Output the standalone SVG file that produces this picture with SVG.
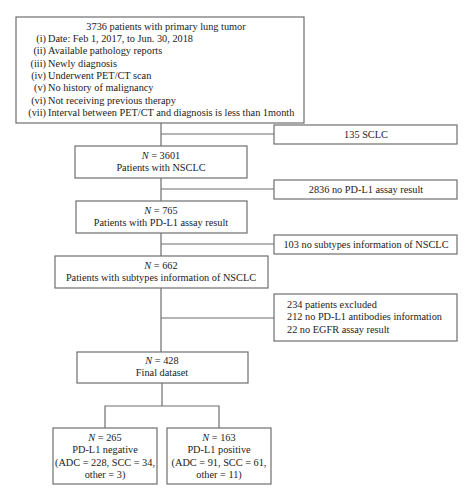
<svg xmlns="http://www.w3.org/2000/svg" width="474" height="501" viewBox="0 0 474 501">
<style>
.b{fill:#fff;stroke:#6e6e6e;stroke-width:1.2}
.l{fill:none;stroke:#6e6e6e;stroke-width:1.2}
text{font-family:"Liberation Serif","Times New Roman",serif;font-size:10.3px;fill:#222}
.c{text-anchor:middle}
.r{text-anchor:end}
.i{font-style:italic}
</style>
<rect width="474" height="501" fill="#fff"/>
<g id="connectors">
<path class="l" d="M161 123V146M161 134H274"/>
<path class="l" d="M161 178V201M161 189H274"/>
<path class="l" d="M161 233V256M161 244H274"/>
<path class="l" d="M161 288V352M161 318H274"/>
<path class="l" d="M162 383V406M105 428V406H219V428"/>
</g>
<g id="n0">
<rect class="b" x="16" y="17" width="288" height="106"/>
<text class="c" x="166" y="29.5">3736 patients with primary lung tumor</text>
<text class="r" x="46" y="41.5">(i)</text><text x="48" y="41.5">Date: Feb 1, 2017, to Jun. 30, 2018</text>
<text class="r" x="46" y="54">(ii)</text><text x="48" y="54">Available pathology reports</text>
<text class="r" x="46" y="66.5">(iii)</text><text x="48" y="66.5">Newly diagnosis</text>
<text class="r" x="46" y="78.5">(iv)</text><text x="48" y="78.5">Underwent PET/CT scan</text>
<text class="r" x="46" y="91">(v)</text><text x="48" y="91">No history of malignancy</text>
<text class="r" x="46" y="103.5">(vi)</text><text x="48" y="103.5">Not receiving previous therapy</text>
<text class="r" x="46" y="116">(vii)</text><text x="48" y="116">Interval between PET/CT and diagnosis is less than 1month</text>
</g>
<g id="e1">
<rect class="b" x="274" y="125" width="183" height="19"/>
<text class="c" x="366" y="137.5">135 SCLC</text>
</g>
<g id="n1">
<rect class="b" x="75" y="146" width="172" height="32"/>
<text class="c" x="161" y="158.5"><tspan class="i">N</tspan> = 3601</text>
<text class="c" x="161" y="170.5">Patients with NSCLC</text>
</g>
<g id="e2">
<rect class="b" x="274" y="180" width="183" height="19"/>
<text class="c" x="366" y="192.5">2836 no PD-L1 assay result</text>
</g>
<g id="n2">
<rect class="b" x="76" y="201" width="171" height="32"/>
<text class="c" x="161" y="213.5"><tspan class="i">N</tspan> = 765</text>
<text class="c" x="161" y="225.5">Patients with PD-L1 assay result</text>
</g>
<g id="e3">
<rect class="b" x="274" y="235" width="183" height="19"/>
<text class="c" x="366" y="247.5">103 no subtypes information of NSCLC</text>
</g>
<g id="n3">
<rect class="b" x="55" y="256" width="213" height="32"/>
<text class="c" x="161" y="269"><tspan class="i">N</tspan> = 662</text>
<text class="c" x="161" y="281">Patients with subtypes information of NSCLC</text>
</g>
<g id="e4">
<rect class="b" x="274" y="294" width="183" height="47"/>
<text x="287" y="307.5">234 patients excluded</text>
<text x="287" y="320">212 no PD-L1 antibodies information</text>
<text x="287" y="332.5">22 no EGFR assay result</text>
</g>
<g id="n4">
<rect class="b" x="77" y="352" width="171" height="31"/>
<text class="c" x="162" y="363.5"><tspan class="i">N</tspan> = 428</text>
<text class="c" x="162" y="376">Final dataset</text>
</g>
<g id="n5">
<rect class="b" x="53" y="428" width="104" height="56"/>
<text class="c" x="105" y="440.5"><tspan class="i">N</tspan> = 265</text>
<text class="c" x="105" y="453">PD-L1 negative</text>
<text class="c" x="105" y="465.5">(ADC = 228, SCC = 34,</text>
<text class="c" x="105" y="478">other = 3)</text>
</g>
<g id="n6">
<rect class="b" x="167" y="428" width="104" height="56"/>
<text class="c" x="219" y="440.5"><tspan class="i">N</tspan> = 163</text>
<text class="c" x="219" y="453">PD-L1 positive</text>
<text class="c" x="219" y="465.5">(ADC = 91, SCC = 61,</text>
<text class="c" x="219" y="478">other = 11)</text>
</g>
</svg>
